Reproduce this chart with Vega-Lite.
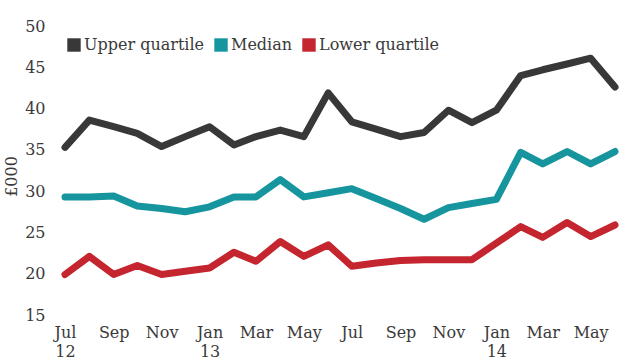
{
  "$schema": "https://vega.github.io/schema/vega-lite/v6.json",
  "width": 550,
  "height": 289,
  "autosize": {"type": "none"},
  "padding": {"left": 65, "top": 26, "right": 16, "bottom": 47},
  "background": "#ffffff",
  "config": {"view": {"stroke": null}, "font": "DejaVu Serif"},
  "data": {
    "values": [
      {"date": "2012-07-01", "series": "Upper quartile", "value": 35.3},
      {"date": "2012-08-01", "series": "Upper quartile", "value": 38.6},
      {"date": "2012-09-01", "series": "Upper quartile", "value": 37.8},
      {"date": "2012-10-01", "series": "Upper quartile", "value": 37.0},
      {"date": "2012-11-01", "series": "Upper quartile", "value": 35.4},
      {"date": "2012-12-01", "series": "Upper quartile", "value": 36.6},
      {"date": "2013-01-01", "series": "Upper quartile", "value": 37.8},
      {"date": "2013-02-01", "series": "Upper quartile", "value": 35.6},
      {"date": "2013-03-01", "series": "Upper quartile", "value": 36.6},
      {"date": "2013-04-01", "series": "Upper quartile", "value": 37.4},
      {"date": "2013-05-01", "series": "Upper quartile", "value": 36.6},
      {"date": "2013-06-01", "series": "Upper quartile", "value": 41.9},
      {"date": "2013-07-01", "series": "Upper quartile", "value": 38.4},
      {"date": "2013-08-01", "series": "Upper quartile", "value": 37.5},
      {"date": "2013-09-01", "series": "Upper quartile", "value": 36.6},
      {"date": "2013-10-01", "series": "Upper quartile", "value": 37.1},
      {"date": "2013-11-01", "series": "Upper quartile", "value": 39.8},
      {"date": "2013-12-01", "series": "Upper quartile", "value": 38.3},
      {"date": "2014-01-01", "series": "Upper quartile", "value": 39.8},
      {"date": "2014-02-01", "series": "Upper quartile", "value": 44.0},
      {"date": "2014-03-01", "series": "Upper quartile", "value": 44.7},
      {"date": "2014-04-01", "series": "Upper quartile", "value": 45.4},
      {"date": "2014-05-01", "series": "Upper quartile", "value": 46.1},
      {"date": "2014-06-01", "series": "Upper quartile", "value": 42.6},
      {"date": "2012-07-01", "series": "Median", "value": 29.3},
      {"date": "2012-08-01", "series": "Median", "value": 29.3},
      {"date": "2012-09-01", "series": "Median", "value": 29.4},
      {"date": "2012-10-01", "series": "Median", "value": 28.2},
      {"date": "2012-11-01", "series": "Median", "value": 27.9},
      {"date": "2012-12-01", "series": "Median", "value": 27.5},
      {"date": "2013-01-01", "series": "Median", "value": 28.1},
      {"date": "2013-02-01", "series": "Median", "value": 29.3},
      {"date": "2013-03-01", "series": "Median", "value": 29.3},
      {"date": "2013-04-01", "series": "Median", "value": 31.4},
      {"date": "2013-05-01", "series": "Median", "value": 29.3},
      {"date": "2013-06-01", "series": "Median", "value": 29.8},
      {"date": "2013-07-01", "series": "Median", "value": 30.3},
      {"date": "2013-08-01", "series": "Median", "value": 29.1},
      {"date": "2013-09-01", "series": "Median", "value": 27.9},
      {"date": "2013-10-01", "series": "Median", "value": 26.6},
      {"date": "2013-11-01", "series": "Median", "value": 28.0},
      {"date": "2013-12-01", "series": "Median", "value": 28.5},
      {"date": "2014-01-01", "series": "Median", "value": 29.0},
      {"date": "2014-02-01", "series": "Median", "value": 34.7},
      {"date": "2014-03-01", "series": "Median", "value": 33.3},
      {"date": "2014-04-01", "series": "Median", "value": 34.8},
      {"date": "2014-05-01", "series": "Median", "value": 33.3},
      {"date": "2014-06-01", "series": "Median", "value": 34.8},
      {"date": "2012-07-01", "series": "Lower quartile", "value": 19.9},
      {"date": "2012-08-01", "series": "Lower quartile", "value": 22.1},
      {"date": "2012-09-01", "series": "Lower quartile", "value": 19.9},
      {"date": "2012-10-01", "series": "Lower quartile", "value": 21.0},
      {"date": "2012-11-01", "series": "Lower quartile", "value": 19.9},
      {"date": "2012-12-01", "series": "Lower quartile", "value": 20.3},
      {"date": "2013-01-01", "series": "Lower quartile", "value": 20.7},
      {"date": "2013-02-01", "series": "Lower quartile", "value": 22.6},
      {"date": "2013-03-01", "series": "Lower quartile", "value": 21.5},
      {"date": "2013-04-01", "series": "Lower quartile", "value": 23.9},
      {"date": "2013-05-01", "series": "Lower quartile", "value": 22.1},
      {"date": "2013-06-01", "series": "Lower quartile", "value": 23.5},
      {"date": "2013-07-01", "series": "Lower quartile", "value": 20.9},
      {"date": "2013-08-01", "series": "Lower quartile", "value": 21.3},
      {"date": "2013-09-01", "series": "Lower quartile", "value": 21.6},
      {"date": "2013-10-01", "series": "Lower quartile", "value": 21.7},
      {"date": "2013-11-01", "series": "Lower quartile", "value": 21.7},
      {"date": "2013-12-01", "series": "Lower quartile", "value": 21.7},
      {"date": "2014-01-01", "series": "Lower quartile", "value": 23.7},
      {"date": "2014-02-01", "series": "Lower quartile", "value": 25.7},
      {"date": "2014-03-01", "series": "Lower quartile", "value": 24.4},
      {"date": "2014-04-01", "series": "Lower quartile", "value": 26.2},
      {"date": "2014-05-01", "series": "Lower quartile", "value": 24.5},
      {"date": "2014-06-01", "series": "Lower quartile", "value": 25.9}
    ]
  },
  "mark": {"type": "line", "strokeWidth": 7, "strokeJoin": "round", "strokeCap": "round"},
  "encoding": {
    "x": {
      "field": "date",
      "type": "temporal",
      "scale": {
        "type": "utc",
        "domain": [
          {"year": 2012, "month": 7, "date": 1, "utc": true},
          {"year": 2014, "month": 6, "date": 1, "utc": true}
        ]
      },
      "axis": {
        "title": null,
        "domain": false,
        "ticks": false,
        "grid": false,
        "values": [
          {"year": 2012, "month": 7, "date": 1, "utc": true},
          {"year": 2012, "month": 9, "date": 1, "utc": true},
          {"year": 2012, "month": 11, "date": 1, "utc": true},
          {"year": 2013, "month": 1, "date": 1, "utc": true},
          {"year": 2013, "month": 3, "date": 1, "utc": true},
          {"year": 2013, "month": 5, "date": 1, "utc": true},
          {"year": 2013, "month": 7, "date": 1, "utc": true},
          {"year": 2013, "month": 9, "date": 1, "utc": true},
          {"year": 2013, "month": 11, "date": 1, "utc": true},
          {"year": 2014, "month": 1, "date": 1, "utc": true},
          {"year": 2014, "month": 3, "date": 1, "utc": true},
          {"year": 2014, "month": 5, "date": 1, "utc": true}
        ],
        "labelExpr": "[utcFormat(datum.value, '%b'), (utcmonth(datum.value) == 0 || (utcmonth(datum.value) == 6 && utcyear(datum.value) == 2012)) ? utcFormat(datum.value, '%y') : '']",
        "labelFont": "DejaVu Serif",
        "labelFontSize": 16,
        "labelColor": "#3a3a3a",
        "labelPadding": 9,
        "labelLineHeight": 19,
        "labelBaseline": "top",
        "labelAlign": "center",
        "labelFlush": false,
        "labelOverlap": false
      }
    },
    "y": {
      "field": "value",
      "type": "quantitative",
      "scale": {"domain": [15, 50], "nice": false, "zero": false},
      "axis": {
        "values": [15, 20, 25, 30, 35, 40, 45, 50],
        "domain": false,
        "ticks": false,
        "grid": false,
        "labelFont": "DejaVu Serif",
        "labelFontSize": 16,
        "labelColor": "#3a3a3a",
        "labelPadding": 20,
        "title": "£000",
        "titleFont": "DejaVu Serif",
        "titleFontSize": 16,
        "titleFontWeight": "normal",
        "titleColor": "#3a3a3a",
        "titleX": -46,
        "titleY": 150,
        "titleAlign": "center"
      }
    },
    "color": {
      "field": "series",
      "type": "nominal",
      "scale": {
        "domain": ["Upper quartile", "Median", "Lower quartile"],
        "range": ["#383838", "#16959f", "#c4252e"]
      },
      "legend": {
        "title": null,
        "orient": "none",
        "legendX": 1,
        "legendY": 11,
        "direction": "horizontal",
        "symbolType": "square",
        "symbolSize": 180,
        "symbolStrokeWidth": 0,
        "labelFont": "DejaVu Serif",
        "labelFontSize": 16,
        "labelColor": "#3a3a3a",
        "labelOffset": 2,
        "columnPadding": 8,
        "encode": {
          "symbols": {
            "update": {
              "fill": {"scale": "color", "field": "value"},
              "fillOpacity": {"value": 1}
            }
          }
        }
      }
    }
  }
}
